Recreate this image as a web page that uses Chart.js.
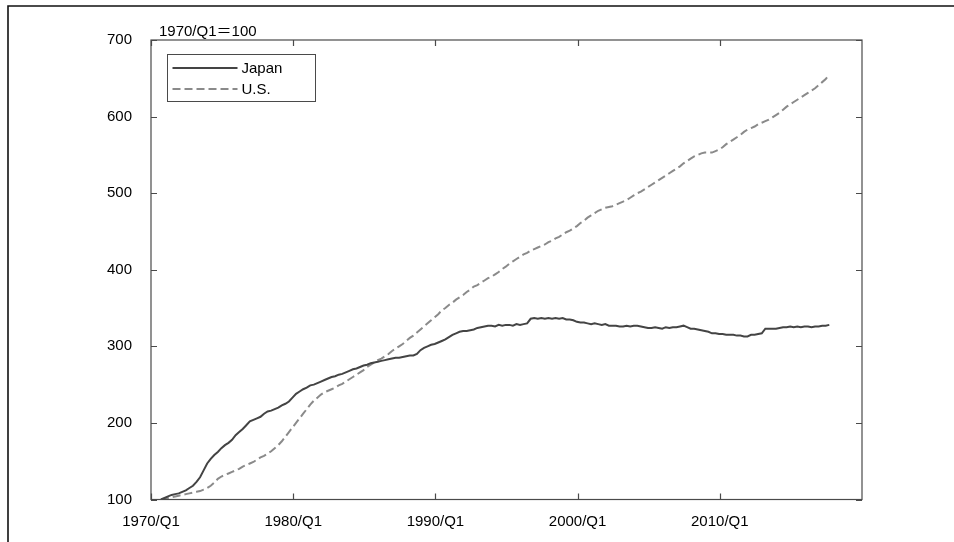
<!DOCTYPE html>
<html>
<head>
<meta charset="utf-8">
<script src="https://cdn.jsdelivr.net/npm/chart.js@4.4.1/dist/chart.umd.min.js"></script>
<style>
  html, body { margin: 0; padding: 0; background: #fff; }
  #wrap { width: 954px; height: 542px; position: relative; }
</style>
</head>
<body>
<div id="wrap"><canvas id="c" width="954" height="542"></canvas></div>
<script>
// ---- data (index, 1970/Q1 = 100), quarterly observations ----
const unitLabel = '1970/Q1\uFF1D100';
const seriesNames = ['Japan', 'U.S.'];
const startYear = 1970.7;   // first observation as placed on the time axis
const japan = [
  100,102,104,106, 107,108,110,112, 115,118,123,129, 138,147,153,158,
  162,167,171,174, 178,184,188,192, 197,202,204,206, 208,212,215,216,
  218,220,223,225, 228,233,238,241, 244,246,249,250, 252,254,256,258,
  260,261,263,264, 266,268,270,271, 273,275,276,278, 279,280,281,282,
  283,284,285,285, 286,287,288,288, 290,295,298,300, 302,303,305,307,
  309,312,315,317, 319,320,320,321, 322,324,325,326, 327,327,326,328,
  327,328,328,327, 329,328,329,330, 336,337,336,337, 336,337,336,337,
  336,337,335,335, 334,332,331,331, 330,329,330,329, 328,329,327,327,
  327,326,326,327, 326,327,327,326, 325,324,324,325, 324,323,325,324,
  325,325,326,327, 325,323,323,322, 321,320,319,317, 317,316,316,315,
  315,315,314,314, 313,313,315,315, 316,317,323,323, 323,323,324,325,
  325,326,325,326, 325,326,326,325, 326,326,327,327, 328
];
const us = [
  100,101,102,103, 104,105,106,107, 108,109,110,111, 113,115,118,122,
  127,130,132,134, 136,138,140,143, 145,147,149,152, 155,157,160,163,
  167,171,176,182, 188,194,200,206, 212,218,224,229, 233,237,240,242,
  244,246,249,251, 254,257,260,263, 266,269,273,276, 279,282,284,287,
  290,294,297,300, 303,307,311,314, 318,322,326,330, 334,338,342,347,
  350,354,357,361, 364,367,371,374, 378,380,383,386, 389,391,394,397,
  401,404,408,411, 414,417,420,422, 425,427,429,431, 433,436,438,441,
  443,446,449,451, 454,457,461,464, 468,471,474,477, 479,481,482,483,
  485,487,489,491, 494,497,500,502, 505,508,511,514, 517,520,523,526,
  529,532,535,539, 542,545,548,550, 552,553,553,553, 555,557,560,564,
  567,570,573,576, 580,583,585,587, 590,592,594,596, 599,602,605,609,
  613,616,619,622, 625,628,631,634, 637,641,645,649, 655
];
const xTickYears = [1970, 1980, 1990, 2000, 2010];
const xTickSuffix = '/Q1';
const yTicks = [100, 200, 300, 400, 500, 600, 700];

const toPoints = arr => arr.map((v, i) => ({ x: startYear + i * 0.25, y: v }));

const FONT = '"Liberation Sans", Arial, "Noto Sans CJK JP", sans-serif';
const AXIS_COLOR = '#4a4a4a';
const JP_COLOR = '#444444';
const US_COLOR = '#8a8a8a';
const US_DASH = [8, 4];

const framePlugin = {
  id: 'framePlugin',
  afterDraw(chart) {
    const ctx = chart.ctx;
    const a = chart.chartArea;
    const xs = chart.scales.x, ys = chart.scales.y;
    ctx.save();
    // outer picture frame (top and left)
    ctx.strokeStyle = '#111';
    ctx.lineWidth = 1.6;
    ctx.beginPath();
    ctx.moveTo(8, 542); ctx.lineTo(8, 6); ctx.lineTo(954, 6);
    ctx.stroke();
    // plot frame
    ctx.strokeStyle = AXIS_COLOR;
    ctx.lineWidth = 1.2;
    ctx.strokeRect(a.left, a.top, a.right - a.left, a.bottom - a.top);
    // inward ticks on all four sides
    const tl = 6;
    ctx.beginPath();
    yTicks.forEach(v => {
      const y = Math.round(ys.getPixelForValue(v)) + 0.5;
      ctx.moveTo(a.left, y); ctx.lineTo(a.left + tl, y);
      ctx.moveTo(a.right, y); ctx.lineTo(a.right - tl, y);
    });
    xTickYears.forEach(v => {
      const x = Math.round(xs.getPixelForValue(v)) + 0.5;
      ctx.moveTo(x, a.bottom); ctx.lineTo(x, a.bottom - tl);
      ctx.moveTo(x, a.top); ctx.lineTo(x, a.top + tl);
    });
    ctx.stroke();
    // unit label
    ctx.fillStyle = '#000';
    ctx.font = '15px ' + FONT;
    ctx.textBaseline = 'alphabetic';
    ctx.textAlign = 'left';
    ctx.fillText(unitLabel, a.left + 8, 36);
    // legend box
    const bx = a.left + 16.5, by = a.top + 14.5, bw = 148, bh = 47;
    ctx.strokeStyle = AXIS_COLOR;
    ctx.lineWidth = 1;
    ctx.strokeRect(bx, by, bw, bh);
    const rows = [
      { name: seriesNames[0], color: JP_COLOR, dash: [], y: by + 13.5 },
      { name: seriesNames[1], color: US_COLOR, dash: US_DASH, y: by + 34.5 }
    ];
    rows.forEach(r => {
      ctx.strokeStyle = r.color;
      ctx.lineWidth = 2;
      ctx.setLineDash(r.dash);
      ctx.beginPath();
      ctx.moveTo(bx + 5, r.y); ctx.lineTo(bx + 70, r.y);
      ctx.stroke();
      ctx.setLineDash([]);
      ctx.fillStyle = '#000';
      ctx.textBaseline = 'middle';
      ctx.fillText(r.name, bx + 74, r.y + 1);
    });
    ctx.restore();
  }
};

new Chart(document.getElementById('c'), {
  type: 'line',
  data: {
    datasets: [
      { label: seriesNames[0], data: toPoints(japan), borderColor: JP_COLOR, borderWidth: 2,
        pointRadius: 0, fill: false, tension: 0 },
      { label: seriesNames[1], data: toPoints(us), borderColor: US_COLOR, borderWidth: 2,
        borderDash: US_DASH, pointRadius: 0, fill: false, tension: 0 }
    ]
  },
  options: {
    responsive: false,
    animation: false,
    devicePixelRatio: 1,
    layout: { padding: { left: 0, top: 40, right: 92, bottom: 0 } },
    plugins: { legend: { display: false }, tooltip: { enabled: false }, title: { display: false } },
    scales: {
      x: {
        type: 'linear', min: 1970, max: 2020,
        afterBuildTicks: s => { s.ticks = xTickYears.map(v => ({ value: v })); },
        afterFit: s => { s.height = 42.5; },
        grid: { display: false, drawTicks: false },
        border: { display: false },
        ticks: {
          autoSkip: false, maxRotation: 0, padding: 13, color: '#000',
          font: { family: FONT, size: 15 },
          callback: v => v + xTickSuffix
        }
      },
      y: {
        min: 100, max: 700,
        afterBuildTicks: s => { s.ticks = yTicks.map(v => ({ value: v })); },
        afterFit: s => { s.width = 151; },
        grid: { display: false, drawTicks: false },
        border: { display: false },
        ticks: { padding: 19, color: '#000', font: { family: FONT, size: 15 } }
      }
    }
  },
  plugins: [framePlugin]
});
</script>
</body>
</html>
